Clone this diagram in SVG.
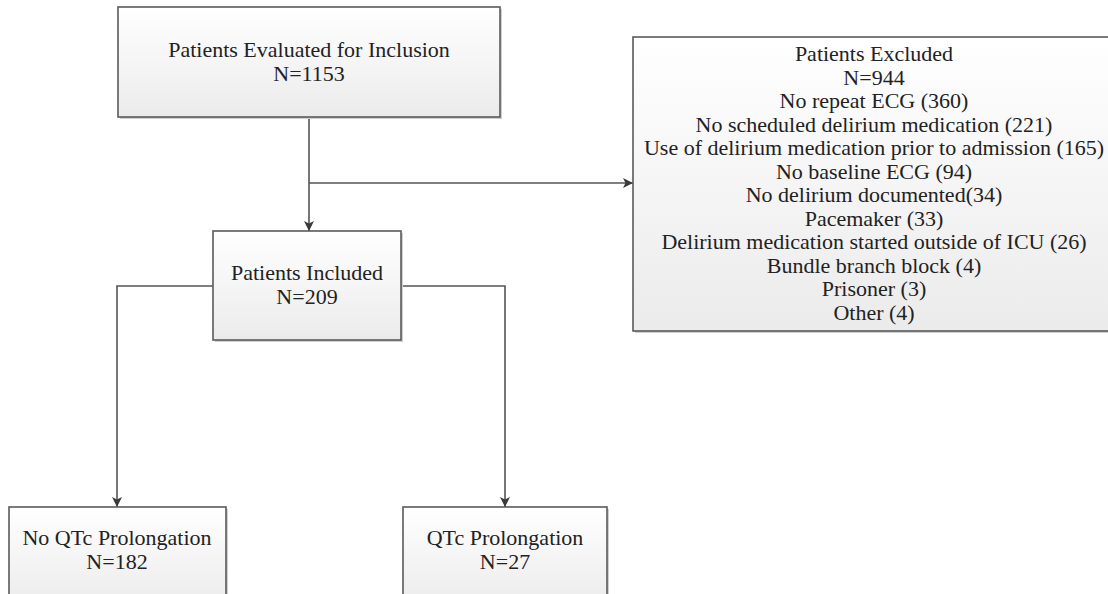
<svg xmlns="http://www.w3.org/2000/svg" width="1108" height="594" viewBox="0 0 1108 594">
<style>
.box{fill:url(#g);stroke:#5a5a5a;stroke-width:1.6}
.sh{fill:#cfcfcf}
.t{font-family:"Liberation Serif","Times New Roman",serif;font-size:22px;fill:#222;text-anchor:middle}
.c{fill:none;stroke:#555;stroke-width:1.6}
</style>
<defs>
<linearGradient id="g" x1="0" y1="0" x2="0" y2="1">
<stop offset="0" stop-color="#ffffff"/>
<stop offset="1" stop-color="#ebebeb"/>
</linearGradient>
<marker id="a" viewBox="0 0 10 10" refX="10" refY="5" markerWidth="11" markerHeight="10" markerUnits="userSpaceOnUse" orient="auto">
<path d="M0,0 L10,5 L0,10 L2.5,5 Z" fill="#3a3a3a"/>
</marker>
</defs>
<rect width="1108" height="594" fill="#fff"/>
<g id="connectors">
<path class="c" d="M309,117 V231" marker-end="url(#a)"/>
<path class="c" d="M309,183 H633" marker-end="url(#a)"/>
<path class="c" d="M213,286 H117 V507" marker-end="url(#a)"/>
<path class="c" d="M401,286 H505 V507" marker-end="url(#a)"/>
</g>
<g id="evaluated">
<rect class="sh" x="120" y="9" width="382" height="110"/>
<rect class="box" x="118" y="7" width="382" height="110"/>
<text class="t" x="309" y="57">Patients Evaluated for Inclusion</text>
<text class="t" x="309" y="81">N=1153</text>
</g>
<g id="excluded">
<rect class="sh" x="635" y="39" width="480" height="294"/>
<rect class="box" x="633" y="37" width="480" height="294"/>
<text class="t" x="874" y="61">Patients Excluded</text>
<text class="t" x="874" y="84.5">N=944</text>
<text class="t" x="874" y="108">No repeat ECG (360)</text>
<text class="t" x="874" y="131.5">No scheduled delirium medication (221)</text>
<text class="t" x="874" y="155">Use of delirium medication prior to admission (165)</text>
<text class="t" x="874" y="178.5">No baseline ECG (94)</text>
<text class="t" x="874" y="202">No delirium documented(34)</text>
<text class="t" x="874" y="225.5">Pacemaker (33)</text>
<text class="t" x="874" y="249">Delirium medication started outside of ICU (26)</text>
<text class="t" x="874" y="272.5">Bundle branch block (4)</text>
<text class="t" x="874" y="296">Prisoner (3)</text>
<text class="t" x="874" y="319.5">Other (4)</text>
</g>
<g id="included">
<rect class="sh" x="215" y="233" width="188" height="109"/>
<rect class="box" x="213" y="231" width="188" height="109"/>
<text class="t" x="307" y="280">Patients Included</text>
<text class="t" x="307" y="304">N=209</text>
</g>
<g id="noqtc">
<rect class="sh" x="11" y="509" width="217" height="100"/>
<rect class="box" x="9" y="507" width="217" height="100"/>
<text class="t" x="117" y="545">No QTc Prolongation</text>
<text class="t" x="117" y="569">N=182</text>
</g>
<g id="qtc">
<rect class="sh" x="405" y="509" width="204" height="100"/>
<rect class="box" x="403" y="507" width="204" height="100"/>
<text class="t" x="505" y="545">QTc Prolongation</text>
<text class="t" x="505" y="569">N=27</text>
</g>
</svg>
